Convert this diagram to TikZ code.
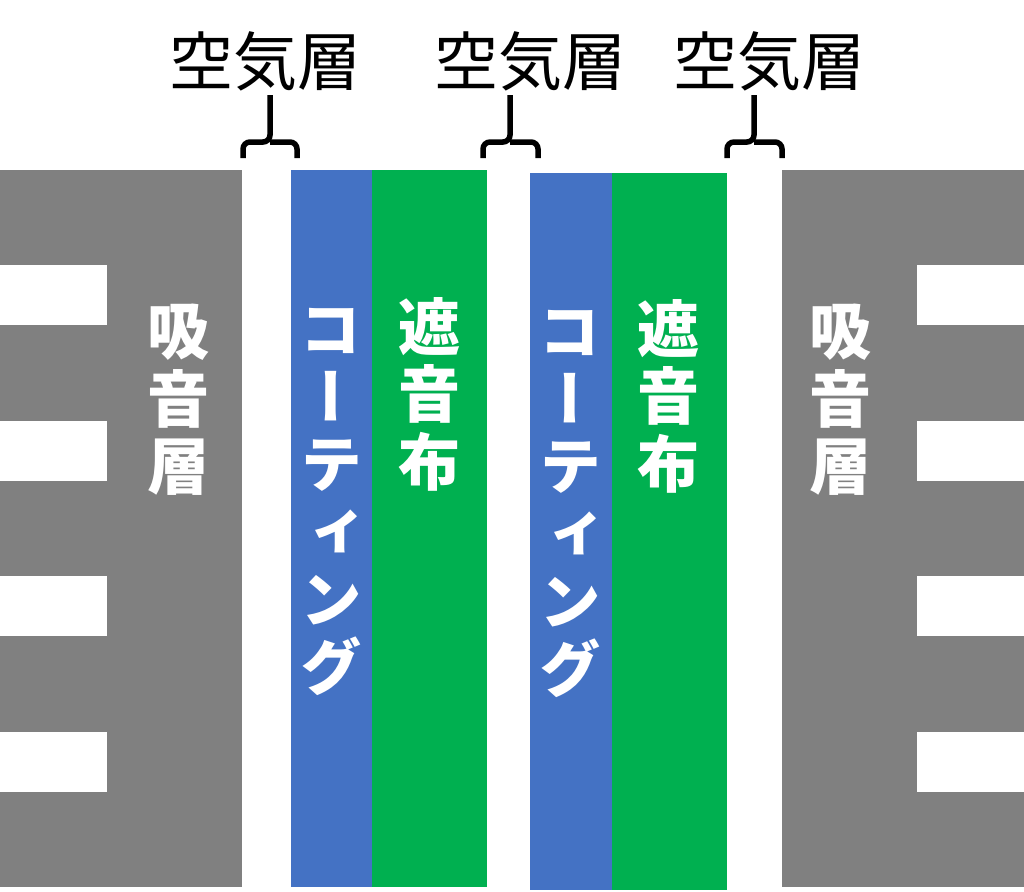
\documentclass[tikz,border=0pt]{standalone}
\usepackage{fontspec}
\newfontfamily\jp{Noto Sans CJK JP}
\newfontfamily\jpv[RawFeature=+vert]{Noto Sans CJK JP}
\definecolor{wallgray}{HTML}{808080}
\definecolor{coatblue}{HTML}{4472C4}
\definecolor{clothgreen}{HTML}{00B050}
\begin{document}
\begin{tikzpicture}[x=1pt, y=-1pt,
  gaplabel/.style={inner sep=0pt, font=\jp\fontsize{64}{64}\selectfont},
  layertext/.style={inner sep=0pt, text=white, align=center,
    font=\jpv\bfseries\fontsize{62}{67.5}\selectfont},
  bracket/.style={line width=5.5pt, rounded corners=7pt}]

  \useasboundingbox (0,0) rectangle (1024,891);

  % Draw the sound absorbing walls
  \fill[wallgray] (0,170) rectangle (242,887);
  \fill[wallgray] (782,170) rectangle (1024,887);
  \foreach \y in {265,420.5,576,731.5} {
    \fill[white] (0,\y) rectangle (107,\y+60);
    \fill[white] (917,\y) rectangle (1024,\y+60);
  }

  % Draw the coating and the cloth
  \fill[coatblue] (291,170) rectangle (372,887);
  \fill[clothgreen] (372,170) rectangle (487,887);
  \fill[coatblue] (530,173) rectangle (612,890);
  \fill[clothgreen] (612,173) rectangle (727,890);

  % Texts in the layers
  \node[layertext] (absL) at (178,400) {吸\\音\\層};
  \node[layertext] (absR) at (840,400) {吸\\音\\層};
  \node[layertext] (coatL) at (331,502) {コ\\ー\\テ\\ィ\\ン\\グ};
  \node[layertext] (coatR) at (570,504) {コ\\ー\\テ\\ィ\\ン\\グ};
  \node[layertext] (clothL) at (429,394) {遮\\音\\布};
  \node[layertext] (clothR) at (668,396) {遮\\音\\布};

  % Air layers with their brackets
  \foreach \name/\x/\l/\m/\r in {L/265/243/270/297, M/530/483/510/538, R/769/727/754/782} {
    \node[gaplabel] (air\name) at (\x,61) {空気層};
    \coordinate (stem\name) at (\m,95);
    \coordinate (bar\name) at (\m,142);
    \draw[bracket] (\l,158) |- (bar\name) -- (stem\name);
    \draw[bracket] (bar\name) -| (\r,158);
  }

\end{tikzpicture}
\end{document}
